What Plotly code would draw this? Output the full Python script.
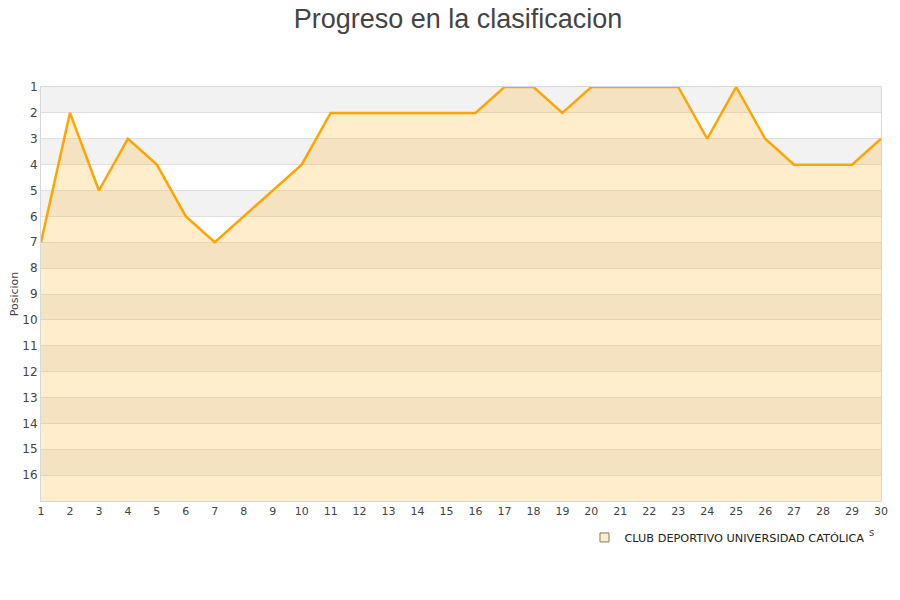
import plotly.graph_objects as go

jornadas = list(range(1, 31))
posiciones = [7, 2, 5, 3, 4, 6, 7, 6, 5, 4, 2, 2, 2, 2, 2, 2, 1, 1, 2, 1,
              1, 1, 1, 3, 1, 3, 4, 4, 4, 3]
y_ticks = list(range(1, 17))
equipo = "CLUB DEPORTIVO UNIVERSIDAD CATÓLICA"
fondo = [17] * len(jornadas)

fig = go.Figure()

fig.add_trace(go.Scatter(x=jornadas, y=fondo, mode="lines",
                         line=dict(width=0, color="rgba(0,0,0,0)"),
                         showlegend=False, hoverinfo="skip"))
fig.add_trace(go.Scatter(x=jornadas, y=posiciones, mode="lines",
                         line=dict(color="#ffa500", width=2.5),
                         fill="tonexty", fillcolor="rgba(255,165,0,0.2)",
                         showlegend=False, cliponaxis=False))
fig.add_trace(go.Scatter(x=[None], y=[None], mode="markers", name=equipo,
                         marker=dict(symbol="square", size=9,
                                     color="#ffedcc",
                                     line=dict(color="#8a7a60", width=1))))

shapes = []
for k in range(1, 17, 2):
    shapes.append(dict(type="rect", xref="paper", yref="y", x0=0, x1=1,
                       y0=k, y1=k + 1, fillcolor="#f2f2f2",
                       line=dict(width=0), layer="below"))
fig.update_layout(shapes=shapes)

fig.update_layout(
    width=900, height=600,
    paper_bgcolor="white", plot_bgcolor="white",
    margin=dict(l=33, r=27, t=79, b=107, autoexpand=False),
    title=dict(text="Progreso en la clasificacion", x=0.5, xanchor="center",
               y=0.983, yanchor="middle", yref="container",
               font=dict(family="Liberation Sans, Arial", size=27, color="#444")),
    font=dict(family="DejaVu Sans", size=11, color="#444"),
    showlegend=True,
    legend=dict(orientation="h", x=0.647, y=-0.053, xanchor="left", yanchor="top",
                font=dict(family="DejaVu Sans", size=11.3, color="#222"),
                bgcolor="rgba(0,0,0,0)"),
    xaxis=dict(range=[1, 30], tickmode="array", tickvals=jornadas,
               showgrid=False, zeroline=False, showline=True,
               linecolor="#d8d8d8", linewidth=1, mirror=True, automargin=False,
               ticks="", tickfont=dict(size=11, color="#444")),
    yaxis=dict(range=[17, 1], tickmode="array", tickvals=y_ticks,
               showgrid=True, gridcolor="#e0e0e0", gridwidth=1,
               zeroline=False, showline=True, linecolor="#d8d8d8",
               linewidth=1, mirror=True, ticks="", automargin=False,
               ticksuffix="  ",
               tickfont=dict(size=12, color="#444"),
               title=dict(text="Posicion", font=dict(size=11, color="#444"),
                          standoff=6)),
    annotations=[dict(text="s", xref="paper", yref="paper", x=0.994, y=-0.094,
                      showarrow=False, font=dict(size=10, color="#444"))],
)

fig.write_html("out.html")
